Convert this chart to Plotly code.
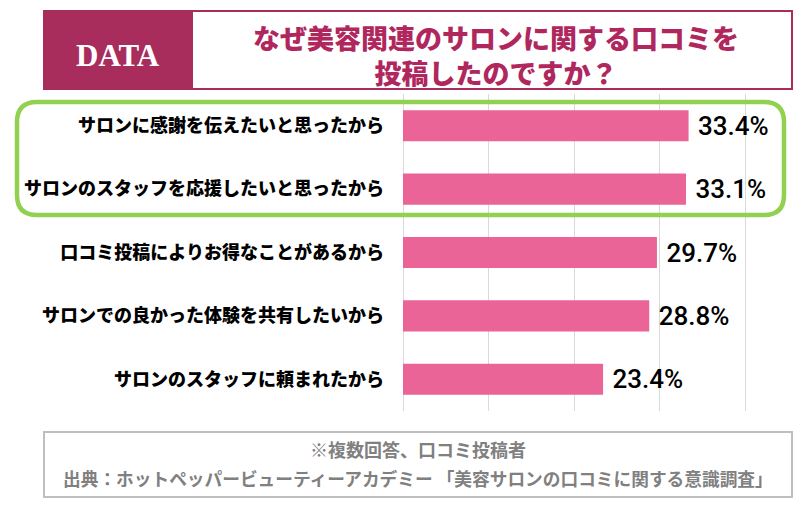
import plotly.graph_objects as go

categories = [
    "サロンに感謝を伝えたいと思ったから",
    "サロンのスタッフを応援したいと思ったから",
    "口コミ投稿によりお得なことがあるから",
    "サロンでの良かった体験を共有したいから",
    "サロンのスタッフに頼まれたから",
]
values = [33.4, 33.1, 29.7, 28.8, 23.4]

title_text = "なぜ美容関連のサロンに関する口コミを<br>投稿したのですか？"
badge_text = "DATA"
note_lines = ["※複数回答、口コミ投稿者",
              "出典：ホットペッパービューティーアカデミー 「美容サロンの口コミに関する意識調査」"]

# page body has an 8px margin; work in window pixel coordinates and compensate
OFF = 8
W, H = 796, 496
PLOT_X0, PLOT_X1 = 403, 772
PLOT_Y0, PLOT_Y1 = 94, 411
L = PLOT_X0 - OFF
R = W - (PLOT_X1 - OFF)
T = PLOT_Y0 - OFF
B = H - (PLOT_Y1 - OFF)
PW, PH = PLOT_X1 - PLOT_X0, PLOT_Y1 - PLOT_Y0

def px(x):
    return (x - PLOT_X0) / PW

def py(y):
    return (PLOT_Y1 - y) / PH

def rounded_rect(x0, y0, x1, y1, r):
    pts = [
        f"M {px(x0 + r)} {py(y0)}",
        f"L {px(x1 - r)} {py(y0)}",
        f"Q {px(x1)} {py(y0)} {px(x1)} {py(y0 + r)}",
        f"L {px(x1)} {py(y1 - r)}",
        f"Q {px(x1)} {py(y1)} {px(x1 - r)} {py(y1)}",
        f"L {px(x0 + r)} {py(y1)}",
        f"Q {px(x0)} {py(y1)} {px(x0)} {py(y1 - r)}",
        f"L {px(x0)} {py(y0 + r)}",
        f"Q {px(x0)} {py(y0)} {px(x0 + r)} {py(y0)}",
        "Z",
    ]
    return " ".join(pts)

JP = "Noto Sans CJK JP"
MAG = "#A82C5C"

fig = go.Figure(go.Bar(
    x=values, y=categories, orientation="h",
    marker=dict(color="#EA6498", line=dict(width=0)),
    width=0.49,
    texttemplate=" %{x:.1f}%", textposition="outside",
    textfont=dict(family="Roboto", size=26, color="#000000", weight=500),
    constraintext="none", cliponaxis=False,
    hoverinfo="skip",
))

shapes = [
    dict(type="rect", xref="paper", yref="paper", x0=px(44), x1=px(792), y0=py(89), y1=py(11),
         line=dict(color=MAG, width=2), fillcolor="white", layer="below"),
    dict(type="rect", xref="paper", yref="paper", x0=px(44), x1=px(193), y0=py(89), y1=py(11),
         line=dict(color=MAG, width=0), fillcolor=MAG, layer="below"),
    dict(type="path", xref="paper", yref="paper", path=rounded_rect(17, 102, 784, 215, 20),
         line=dict(color="#92D050", width=4.5)),
    dict(type="rect", xref="paper", yref="paper", x0=px(44), x1=px(792), y0=py(497), y1=py(432),
         line=dict(color="#BFBFBF", width=2), fillcolor="white", layer="below"),
]

annotations = [
    dict(xref="paper", yref="paper", x=px(118), y=py(55), text=badge_text, showarrow=False,
         font=dict(family="Liberation Serif", size=31, color="white", weight="bold"),
         xanchor="center", yanchor="middle"),
    dict(xref="paper", yref="paper", x=px(496), y=py(55), text=title_text, showarrow=False,
         font=dict(family=JP, size=27, color="#B0275E", weight=900),
         xanchor="center", yanchor="middle", align="center"),
    dict(xref="paper", yref="paper", x=px(418), y=py(449), text=note_lines[0], showarrow=False,
         font=dict(family=JP, size=18, color="#808080", weight="bold"),
         xanchor="center", yanchor="middle"),
    dict(xref="paper", yref="paper", x=px(418), y=py(478), text=note_lines[1], showarrow=False,
         font=dict(family=JP, size=17.7, color="#808080", weight="bold"),
         xanchor="center", yanchor="middle"),
]

fig.update_layout(
    width=W, height=H,
    margin=dict(l=L, r=R, t=T, b=B, pad=0),
    paper_bgcolor="white", plot_bgcolor="white",
    showlegend=False,
    xaxis=dict(range=[0, PW / 8.55], dtick=10, tick0=0, showgrid=True, gridcolor="#D9D9D9",
               gridwidth=1, zeroline=True, zerolinecolor="#D9D9D9", zerolinewidth=1,
               showticklabels=False, showline=False, fixedrange=True),
    yaxis=dict(autorange="reversed", showgrid=False, showline=False, ticks="",
               ticklabelstandoff=18,
               tickfont=dict(family=JP, size=18, color="#000000", weight=900),
               fixedrange=True),
    shapes=shapes,
    annotations=annotations,
)

fig.write_html("out.html")
